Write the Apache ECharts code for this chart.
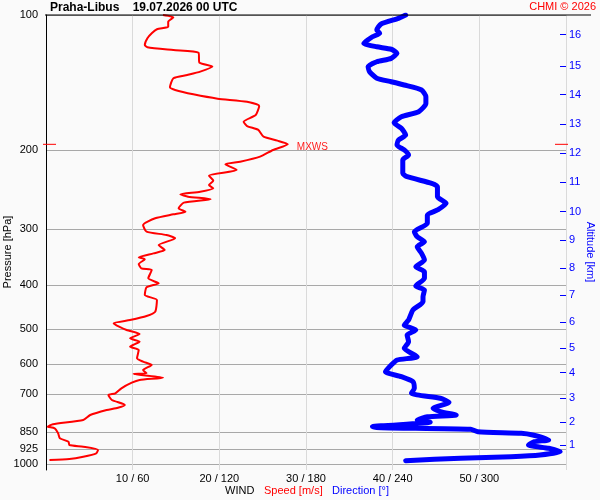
<!DOCTYPE html>
<html>
<head>
<meta charset="utf-8">
<script src="https://cdn.jsdelivr.net/npm/echarts@6/dist/echarts.min.js"></script>
<style>
  html, body { margin: 0; padding: 0; background: #fafafa; }
  #main { width: 600px; height: 500px; }
</style>
</head>
<body>
<div id="main"></div>
<script>
'use strict'

/* wind speed profile [hPa] / [m/s] */
var speedPres = [100, 101.2, 103.5, 106.2, 107.6, 109.8, 112.7, 116.6, 118.0, 119.7, 121.3, 127.7, 130.3, 133.7, 136.0, 138.3,
    144.9, 146.9, 150.2, 153.6, 156.1, 159.5, 167.0, 172.8, 176.7, 180.3, 186.7, 190.5, 194.1, 199.8, 206.8, 212.2, 215.0,
    221.4, 228.0, 233.9, 239.1, 243.2, 247.5, 250.8, 253.9, 257.3, 261.8, 269.5, 274.2, 277.9, 283.6, 293.6, 303.8, 309.0,
    314.3, 325.3, 333.8, 339.5, 346.5, 350.0, 358.6, 366.6, 369.8, 385.9, 395.9, 404.1, 420.4, 431.3, 458.0, 468.2, 477.9,
    486.0, 503.0, 513.5, 524.9, 534.1, 548.0, 557.4, 581.6, 591.8, 601.9, 617.5, 628.1, 630.3, 642.4, 650.0, 659.1, 678.3,
    695.9, 702.2, 720.2, 738.9, 749.2, 758.2, 778.0, 798.0, 815.8, 826.0, 832.7, 854.3, 876.6, 892.0, 907.2, 915.2, 930.8,
    946.7, 963.3, 974.8, 979.7];
var speedVal = [13.5, 14.7, 14.1, 14.1, 12.8, 12.2, 11.7, 11.4, 11.7, 14.7, 17.6, 17.7, 19.2, 17.8, 16.3, 14.7,
    14.3, 14.9, 17.0, 19.8, 23.2, 24.6, 24.2, 22.8, 23.2, 24.5, 25.1, 26.7, 27.9, 26.2, 24.7, 22.4, 20.7,
    22.0, 18.8, 19.3, 18.8, 19.3, 17.8, 15.5, 16.4, 19.0, 15.9, 15.3, 16.1, 14.7, 12.6, 11.2, 11.6, 13.9,
    14.9, 13.0, 13.7, 12.4, 10.7, 11.4, 10.7, 11.0, 12.2, 11.8, 13.0, 11.6, 11.4, 12.8, 12.6, 11.6, 9.7,
    7.8, 9.3, 10.8, 9.7, 10.8, 9.7, 10.7, 10.5, 11.2, 12.2, 11.2, 11.6, 10.1, 13.5, 10.8, 9.9, 8.7,
    8.0, 7.2, 7.6, 9.1, 8.3, 7.0, 5.1, 4.3, 0.8, 0.2, 1.0, 1.4, 1.6, 2.6, 2.7, 4.3, 6.0,
    5.8, 4.3, 2.7, 0.4];

/* wind direction profile [hPa] / [deg] */
var dirPres = [100, 101.7, 104.7, 108.0, 109.8, 111.8, 115.6, 117.7, 119.2, 121.7, 124.9, 127.1, 130.3, 133.7, 138.3,
    140.8, 143.2, 146.9, 152.0, 157.4, 164.2, 168.5, 173.8, 178.8, 185.1, 189.9, 194.8, 199.8, 205.0, 210.3, 225.2,
    229.2, 237.1, 241.2, 253.9, 262.6, 271.8, 279.0, 291.1, 303.8, 311.8, 319.9, 328.2, 339.5, 351.3, 363.6, 373.1,
    385.9, 401.5, 409.8, 424.1, 435.0, 454.0, 477.9, 490.3, 503.0, 516.1, 534.1, 552.5, 576.9, 586.8, 601.9, 623.1,
    639.2, 655.7, 678.3, 695.9, 714.0, 729.0, 751.5, 764.6, 778.0, 785.0, 798.0, 807.5, 826.0, 830.2, 837.0, 847.5,
    854.3, 862.0, 884.2, 892.0, 907.2, 922.8, 938.9, 955.0, 963.0, 971.0, 983.0];
var dirVal = [249, 244, 232, 229, 231, 226, 220, 229, 239, 243, 239, 229, 223, 224, 229,
    239, 248, 260, 263, 263, 258, 246, 241, 246, 249, 244, 243, 248, 251, 247, 247,
    250, 267, 271, 271, 277, 271, 264, 264, 255, 257, 262, 257, 260, 262, 256, 262,
    262, 256, 262, 261, 261, 254, 251, 248, 256, 250, 251, 248, 257, 243, 239, 235,
    246, 254, 255, 253, 273, 279, 268, 273, 284, 264, 257, 266, 226, 232, 294, 299,
    329, 337, 348, 338, 334, 348, 356, 342, 322, 287, 249];

/* axis labels */
var pressTicks = [100, 200, 300, 400, 500, 600, 700, 850, 925, 1000];
var altKm = [1, 2, 3, 4, 5, 6, 7, 8, 9, 10, 11, 12, 13, 14, 15, 16];
var altPres = [908, 807.5, 714, 626, 552.5, 483.6, 421.1, 366.6, 317.6, 274.2, 235.8, 202.9, 175.2, 150.5, 130.1, 110.6];
var speedTicks = [10, 20, 30, 40, 50];
var dirTicks = [60, 120, 180, 240, 300];

var FONT = '"Liberation Sans", Arial, sans-serif';
var lg = function (p) { return Math.log10(p); };

var speedData = speedPres.map(function (p, i) { return [speedVal[i], lg(p)]; });
var dirData = dirPres.map(function (p, i) { return [dirVal[i], lg(p)]; });

var chart = echarts.init(document.getElementById('main'));

var option = {
    animation: false,
    backgroundColor: '#fafafa',
    grid: { left: 46, right: 34, top: 15, bottom: 30 },
    xAxis: [{
        type: 'value',
        min: 0,
        max: 60,
        interval: 10,
        axisLine: { show: false },
        axisTick: { show: false },
        splitLine: { lineStyle: { color: '#dadada', width: 1 } },
        axisLabel: {
            customValues: speedTicks,
            margin: 3,
            fontSize: 11,
            fontFamily: FONT,
            color: '#000',
            formatter: function (v) {
                var i = speedTicks.indexOf(v);
                return v + ' / ' + dirTicks[i];
            }
        }
    }, {
        type: 'value',
        min: 0,
        max: 360,
        show: false
    }],
    yAxis: [{
        type: 'value',
        inverse: true,
        min: 2,
        max: 3.0134,
        position: 'left',
        axisLine: { show: true, onZero: false, lineStyle: { color: '#000', width: 1 } },
        axisTick: { show: false, customValues: pressTicks.map(lg) },
        splitLine: { show: true, lineStyle: { color: '#a8a8a8', width: 1 } },
        axisLabel: {
            customValues: pressTicks.map(lg),
            margin: 8,
            fontSize: 11,
            fontFamily: FONT,
            color: '#000',
            formatter: function (v) { return String(Math.round(Math.pow(10, v))); }
        }
    }, {
        type: 'value',
        inverse: true,
        min: 2,
        max: 3.0134,
        position: 'right',
        axisLine: { show: false, onZero: false },
        splitLine: { show: false },
        axisTick: {
            show: true,
            inside: true,
            length: 6,
            customValues: altPres.map(lg),
            lineStyle: { color: '#0000ff', width: 1 }
        },
        axisLabel: {
            customValues: altPres.map(lg),
            margin: 3,
            fontSize: 11,
            fontFamily: FONT,
            color: '#0000ff',
            formatter: function (v) {
                for (var i = 0; i < altPres.length; i++) {
                    if (Math.abs(lg(altPres[i]) - v) < 1e-6) return String(altKm[i]);
                }
                return '';
            }
        }
    }],
    series: [{
        name: 'Direction',
        type: 'line',
        xAxisIndex: 1,
        yAxisIndex: 0,
        data: dirData,
        showSymbol: false,
        smooth: 0.2,
        lineStyle: { color: '#0000ff', width: 5, cap: 'round', join: 'round' },
        z: 3
    }, {
        name: 'Speed',
        type: 'line',
        xAxisIndex: 0,
        yAxisIndex: 0,
        data: speedData,
        showSymbol: false,
        smooth: 0.2,
        lineStyle: { color: '#ff0000', width: 2 },
        markPoint: {
            symbol: 'circle',
            symbolSize: 0,
            data: [{ type: 'max', valueDim: 'x' }],
            label: {
                show: true,
                position: 'right',
                distance: 9,
                offset: [0, 3],
                formatter: 'MXWS',
                color: '#ff2020',
                fontSize: 10,
                fontFamily: FONT
            }
        },
        z: 4
    }],
    graphic: [
        { id: 'topLine', type: 'line', shape: { x1: 45, y1: 15, x2: 591, y2: 15 }, style: { stroke: '#000', lineWidth: 1 }, z: 10 },
        { id: 'title', type: 'text', x: 50, y: 8, style: { text: 'Praha-Libus    19.07.2026 00 UTC', font: 'bold 12px ' + FONT, fill: '#000', verticalAlign: 'middle' } },
        { id: 'copy', type: 'text', x: 596, y: 7, style: { text: 'CHMI \u00a9 2026', font: '11px ' + FONT, fill: '#ff0000', align: 'right', verticalAlign: 'middle' } },
        { id: 'pName', type: 'text', x: 8, y: 252, rotation: Math.PI / 2, style: { text: 'Pressure [hPa]', font: '11px ' + FONT, fill: '#000', align: 'center', verticalAlign: 'middle' } },
        { id: 'aName', type: 'text', x: 590, y: 252, rotation: -Math.PI / 2, style: { text: 'Altitude [km]', font: '11px ' + FONT, fill: '#0000ff', align: 'center', verticalAlign: 'middle' } },
        { id: 'wind', type: 'text', x: 225, y: 491, style: { text: 'WIND', font: '11px ' + FONT, fill: '#000', verticalAlign: 'middle' } },
        { id: 'spd', type: 'text', x: 264, y: 491, style: { text: 'Speed [m/s]', font: '11px ' + FONT, fill: '#ff0000', verticalAlign: 'middle' } },
        { id: 'dir', type: 'text', x: 332, y: 491, style: { text: 'Direction [\u00b0]', font: '11px ' + FONT, fill: '#0000ff', verticalAlign: 'middle' } }
    ]
};

chart.setOption(option);

/* red marks at the level of maximum wind, left and right */
var iMax = speedVal.indexOf(Math.max.apply(null, speedVal));
var yMax = chart.convertToPixel({ yAxisIndex: 0 }, lg(speedPres[iMax]));
chart.setOption({
    graphic: [
        { id: 'mxL', type: 'line', shape: { x1: 43, y1: yMax, x2: 56, y2: yMax }, style: { stroke: '#ff0000', lineWidth: 1 }, z: 10 },
        { id: 'mxR', type: 'line', shape: { x1: 555, y1: yMax, x2: 568, y2: yMax }, style: { stroke: '#ff0000', lineWidth: 1 }, z: 10 }
    ]
});
</script>
</body>
</html>
